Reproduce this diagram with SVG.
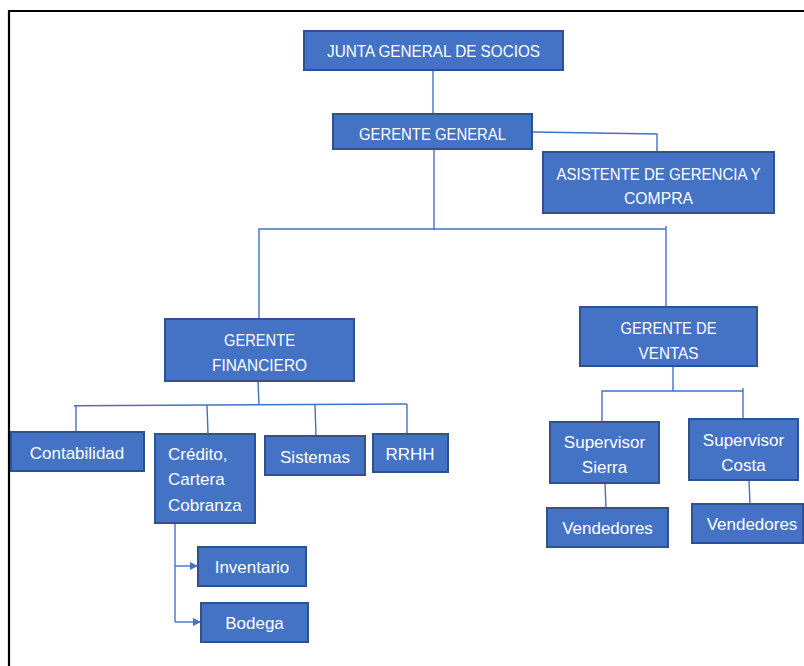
<svg xmlns="http://www.w3.org/2000/svg" width="804" height="666" viewBox="0 0 804 666">
<style>
.box{fill:#4472C4;stroke:#2F528F;stroke-width:2}
.t{fill:#FFFFFF;font-family:"Liberation Sans",Arial,sans-serif;font-size:16.5px;text-anchor:middle}
.m{fill:#FFFFFF;font-family:"Liberation Sans",Arial,sans-serif;font-size:17px;text-anchor:middle}
.l{text-anchor:start}
.c{fill:none;stroke:#4472C4;stroke-width:1.4}
</style>
<defs>
<marker id="arr" viewBox="0 0 10 10" refX="10" refY="5" markerWidth="6" markerHeight="6.5" orient="auto" markerUnits="strokeWidth">
<path d="M0,0 L10,5 L0,10 z" fill="#4472C4"/>
</marker>
</defs>
<rect x="0" y="0" width="804" height="666" fill="#FFFFFF"/>
<path d="M9,666 V11 H804" fill="none" stroke="#000000" stroke-width="2.2"/>
<g id="connectors">
<path class="c" d="M433,70 V114"/>
<path class="c" d="M533,132 L657,134 V152"/>
<path class="c" d="M434,149 V230"/>
<path class="c" d="M259,319 V229 H666"/>
<path class="c" d="M666,226 V306"/>
<path class="c" d="M258,381 L259,405"/>
<path class="c" d="M74,405.7 L407,404"/>
<path class="c" d="M76,405.5 V432"/>
<path class="c" d="M207,405 L208,434"/>
<path class="c" d="M315,405 L316,436"/>
<path class="c" d="M407,404 V434"/>
<path class="c" d="M175,523 V622"/>
<path class="c" d="M175,566 H198" marker-end="url(#arr)"/>
<path class="c" d="M175,622 H201" marker-end="url(#arr)"/>
<path class="c" d="M673,366 V391"/>
<path class="c" d="M602,422 V391 H743"/>
<path class="c" d="M743,388 V419"/>
<path class="c" d="M605,483 L606,508"/>
<path class="c" d="M749,480 L750,504"/>
</g>
<g id="junta"><rect class="box" x="304" y="31" width="259" height="39"/><text class="t" x="433.5" y="57" textLength="213" lengthAdjust="spacingAndGlyphs">JUNTA GENERAL DE SOCIOS</text></g>
<g id="gerente-general"><rect class="box" x="333" y="114" width="199" height="35"/><text class="t" x="432.5" y="140" textLength="147" lengthAdjust="spacingAndGlyphs">GERENTE GENERAL</text></g>
<g id="asistente"><rect class="box" x="543" y="152" width="231" height="61"/><text class="t" x="658.5" y="180" textLength="204" lengthAdjust="spacingAndGlyphs">ASISTENTE DE GERENCIA Y</text><text class="t" x="658.5" y="203.5" textLength="69" lengthAdjust="spacingAndGlyphs">COMPRA</text></g>
<g id="gerente-financiero"><rect class="box" x="165" y="319" width="189" height="62"/><text class="t" x="259.5" y="346" textLength="71" lengthAdjust="spacingAndGlyphs">GERENTE</text><text class="t" x="259.5" y="371" textLength="95" lengthAdjust="spacingAndGlyphs">FINANCIERO</text></g>
<g id="gerente-ventas"><rect class="box" x="580" y="307" width="177" height="59"/><text class="t" x="668.5" y="334" textLength="96" lengthAdjust="spacingAndGlyphs">GERENTE DE</text><text class="t" x="668.5" y="358.5" textLength="60" lengthAdjust="spacingAndGlyphs">VENTAS</text></g>
<g id="contabilidad"><rect class="box" x="11" y="432" width="133" height="39"/><text class="m" x="77" y="459">Contabilidad</text></g>
<g id="credito"><rect class="box" x="155" y="434" width="100" height="89"/><text class="m l" x="168" y="460">Crédito,</text><text class="m l" x="168" y="485">Cartera</text><text class="m l" x="168" y="510.5">Cobranza</text></g>
<g id="sistemas"><rect class="box" x="265" y="436" width="100" height="39"/><text class="m" x="315" y="462.5">Sistemas</text></g>
<g id="rrhh"><rect class="box" x="373" y="434" width="75" height="38"/><text class="m" x="410" y="460">RRHH</text></g>
<g id="inventario"><rect class="box" x="198" y="547" width="108" height="39"/><text class="m" x="252" y="573">Inventario</text></g>
<g id="bodega"><rect class="box" x="201" y="603" width="107" height="39"/><text class="m" x="254.5" y="629">Bodega</text></g>
<g id="supervisor-sierra"><rect class="box" x="550" y="422" width="109" height="61"/><text class="m" x="604.5" y="448">Supervisor</text><text class="m" x="604.5" y="472.5">Sierra</text></g>
<g id="supervisor-costa"><rect class="box" x="689" y="419" width="109" height="61"/><text class="m" x="743.5" y="445.5">Supervisor</text><text class="m" x="743.5" y="471">Costa</text></g>
<g id="vendedores-sierra"><rect class="box" x="547" y="508" width="121" height="39"/><text class="m" x="607.5" y="534">Vendedores</text></g>
<g id="vendedores-costa"><rect class="box" x="692" y="504" width="111" height="39"/><text class="m" x="752" y="530">Vendedores</text></g>
</svg>
